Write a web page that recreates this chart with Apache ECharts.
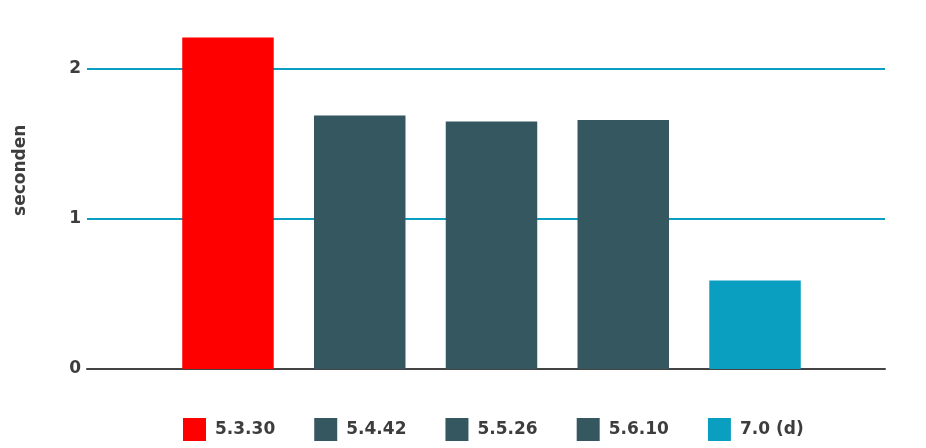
<!DOCTYPE html>
<html>
<head>
<meta charset="utf-8">
<script src="https://cdn.jsdelivr.net/npm/echarts@6/dist/echarts.min.js"></script>
<style>html,body{margin:0;padding:0;background:#fff}#c{width:926px;height:448px}</style>
</head>
<body>
<div id="c"></div>
<script>
var versions = ['5.3.30', '5.4.42', '5.5.26', '5.6.10', '7.0 (d)'];
var seconds = [2.21, 1.69, 1.65, 1.66, 0.59];
var colors = ['#ff0000', '#35575f', '#35575f', '#35575f', '#0a9fc1'];
var yTicks = [0, 1, 2];
var category = ['PHP'];

var chart = echarts.init(document.getElementById('c'), null, {renderer: 'canvas'});
var series = versions.map(function (v, i) {
  return {
    name: v,
    type: 'bar',
    xAxisIndex: 1,
    yAxisIndex: 1,
    data: [seconds[i]],
    barWidth: 91.5,
    barGap: '44%',
    clip: false,
    itemStyle: {color: colors[i]},
    animation: false
  };
});
var textCol = '#3d3d3d';
chart.setOption({
  animation: false,
  textStyle: {fontFamily: 'DejaVu Sans'},
  grid: [
    {left: 87, right: 41, top: 37.5, bottom: 79},
    {left: 92.5, right: 35.5, top: 37.5, bottom: 79}
  ],
  legend: {
    left: 183, top: 418, padding: 0,
    itemWidth: 23, itemHeight: 23, itemGap: 39,
    icon: 'rect',
    textStyle: {fontFamily: 'DejaVu Sans', fontWeight: 'bold', fontSize: 17, color: textCol, padding: [0, 0, 0, 4]},
    data: versions
  },
  xAxis: [{
    type: 'category',
    gridIndex: 0,
    data: category,
    axisLine: {lineStyle: {color: '#444', width: 2}},
    axisTick: {show: false},
    axisLabel: {show: false}
  }, {
    type: 'category',
    gridIndex: 1,
    data: category,
    axisLine: {show: false},
    axisTick: {show: false},
    axisLabel: {show: false}
  }],
  yAxis: [{
    type: 'value',
    gridIndex: 0,
    min: 0, max: 2.21, interval: 1,
    name: 'seconden',
    nameLocation: 'middle',
    nameGap: 58,
    nameRotate: 90,
    nameTextStyle: {fontFamily: 'DejaVu Sans', fontWeight: 'bold', fontSize: 17, color: textCol, padding: [0, 0, 0, 66]},
    axisLine: {show: false},
    axisTick: {show: false},
    axisLabel: {
      margin: 6,
      fontFamily: 'DejaVu Sans', fontWeight: 'bold', fontSize: 17, color: textCol,
      formatter: function (v) { return yTicks.indexOf(v) >= 0 ? String(v) : ''; }
    },
    splitLine: {show: true, showMinLine: false, showMaxLine: false, lineStyle: {color: '#0a9fc1', width: 2}}
  }, {
    type: 'value',
    gridIndex: 1,
    min: 0, max: 2.21, interval: 1,
    axisLine: {show: false},
    axisTick: {show: false},
    axisLabel: {show: false},
    splitLine: {show: false}
  }],
  series: series
});
</script>
</body>
</html>
